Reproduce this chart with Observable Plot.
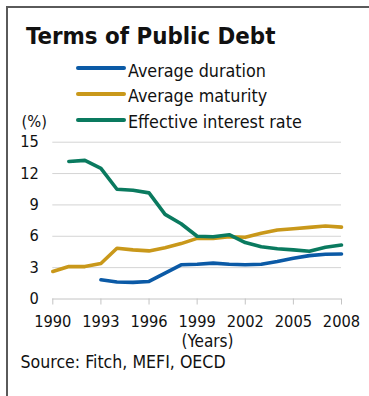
<!DOCTYPE html>
<html>
<head>
<meta charset="utf-8">
<script src="https://cdn.jsdelivr.net/npm/d3@7"></script>
<script src="https://cdn.jsdelivr.net/npm/@observablehq/plot@0.6"></script>
<style>
  html, body { margin: 0; padding: 0; background: #fff; }
  #wrap { position: relative; width: 369px; height: 396px; overflow: hidden; font-family: "DejaVu Sans Condensed", "DejaVu Sans", sans-serif; color: #111; }
  #frame { position: absolute; left: 6px; top: 6px; width: 400px; height: 400px; border-top: 2px solid #5a5a5a; border-left: 2px solid #5a5a5a; }
  .t { position: absolute; white-space: nowrap; line-height: 1; }
  #title { left: 26px; top: 24.9px; font-size: 23.8px; font-weight: bold; }
  .sw { position: absolute; left: 76px; width: 50px; height: 4px; border-radius: 2px; }
  #chart { position: absolute; left: 0; top: 120px; }
</style>
</head>
<body>
<div id="wrap">
  <div id="frame"></div>
  <div id="title" class="t">Terms of Public Debt</div>
  <div id="legend"></div>
  <div class="t" style="left:21.5px; top:114px; font-size:16.3px;">(%)</div>
  <div id="chart"></div>
  <div id="xlabel" class="t" style="left:207.5px; top:333.1px; font-size:17px; transform:translateX(-50%);">(Years)</div>
  <div class="t" style="left:20.5px; top:353.6px; font-size:17.6px;">Source: Fitch, MEFI, OECD</div>
</div>
<script>
const years = [1990,1991,1992,1993,1994,1995,1996,1997,1998,1999,2000,2001,2002,2003,2004,2005,2006,2007,2008];
const averageDuration = [null,null,null,1.84,1.62,1.59,1.68,2.47,3.27,3.33,3.43,3.33,3.27,3.33,3.58,3.90,4.15,4.28,4.31];
const averageMaturity = [2.63,3.10,3.10,3.40,4.85,4.70,4.60,4.90,5.30,5.80,5.80,5.96,5.90,6.28,6.60,6.72,6.85,6.98,6.88];
const effectiveInterest = [null,13.16,13.26,12.50,10.50,10.40,10.15,8.10,7.20,6.00,5.96,6.15,5.40,5.00,4.80,4.70,4.57,4.95,5.17];
const seriesNames = ["Average duration","Average maturity","Effective interest rate"];
const seriesColors = ["#0b5aa6","#c9981a","#0a7a5f"];
const xTicks = [1990,1993,1996,1999,2002,2005,2008];
const yTicks = [0,3,6,9,12,15];

const rows = [];
[averageDuration, averageMaturity, effectiveInterest].forEach((arr, i) => {
  arr.forEach((v, j) => rows.push({series: seriesNames[i], year: years[j], value: v}));
});

const chart = Plot.plot({
  width: 369,
  height: 220,
  marginLeft: 52.3,
  marginRight: 28,
  marginTop: 21.7,
  marginBottom: 41.5,
  style: {fontFamily: "'DejaVu Sans Condensed', 'DejaVu Sans', sans-serif", fontSize: "16.3px", color: "#111", background: "transparent", overflow: "visible"},
  x: {domain: [1990, 2008]},
  y: {domain: [0, 15]},
  color: {domain: seriesNames, range: seriesColors},
  marks: [
    Plot.gridY(yTicks.filter(d => d > 0), {stroke: "#d4d4d4", strokeOpacity: 1, strokeWidth: 1}),
    Plot.ruleY([0], {stroke: "#c4c4c4", strokeWidth: 1}),
    Plot.axisY({ticks: yTicks, tickSize: 0, tickPadding: 14, label: null, tickFormat: d => String(d)}),
    Plot.axisX({ticks: xTicks, tickSize: 6, tickPadding: 10, stroke: "#c4c4c4", label: null, tickFormat: d => String(d)}),
    Plot.line(rows, {x: "year", y: "value", z: "series", stroke: "series", strokeWidth: 3.6, strokeLinecap: "round", strokeLinejoin: "round", filter: d => d.value != null})
  ]
});
document.getElementById("chart").appendChild(chart);

// legend
const legend = document.getElementById("legend");
const swY = [68.3, 93.7, 120.3];
const txtTop = [61.6, 86.6, 113.2];
seriesNames.forEach((name, i) => {
  const sw = document.createElement("div");
  sw.className = "sw";
  sw.style.top = (swY[i] - 2) + "px";
  sw.style.background = seriesColors[i];
  legend.appendChild(sw);
  const t = document.createElement("div");
  t.className = "t";
  t.style.left = "128px";
  t.style.top = txtTop[i] + "px";
  t.style.fontSize = "17.8px";
  t.textContent = name;
  legend.appendChild(t);
});
</script>
</body>
</html>
